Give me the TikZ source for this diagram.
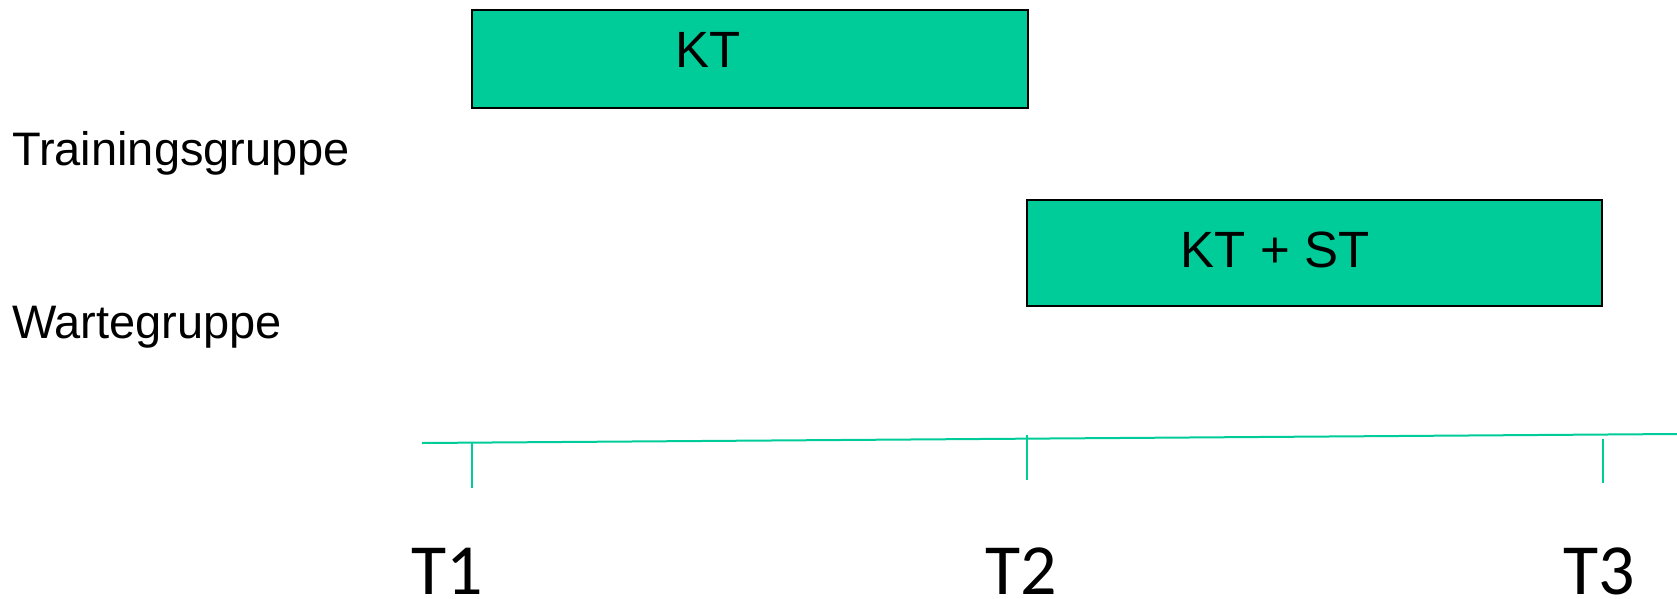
\documentclass[tikz,border=0pt]{standalone}
\usepackage{fontspec}
\setmainfont{Liberation Sans}
\newfontfamily\tfont{Carlito}
\definecolor{phase}{RGB}{0,204,153}
\tikzset{
  phasebox/.style={draw=black, line width=1.6pt, fill=phase, rectangle, inner sep=0pt},
  grouplabel/.style={anchor=base west, inner sep=0pt, font=\fontsize{47}{56}\selectfont},
  boxlabel/.style={anchor=base, inner sep=0pt, font=\fontsize{51}{60}\selectfont},
  timelabel/.style={anchor=base, inner sep=0pt, font=\tfont\fontsize{72}{86}\selectfont},
  axis/.style={draw=phase, line width=2pt},
}
\begin{document}
\begin{tikzpicture}[x=1pt, y=-1pt]
  \useasboundingbox (0,0) rectangle (1677,599);

  % phase boxes
  \path[phasebox] (472,10) rectangle (1028,108);
  \path[phasebox] (1027,200) rectangle (1602,306);
  \node[boxlabel] (kt) at (708,68) {KT};
  \node[boxlabel] (ktst) at (1275,267) {KT + ST};

  % group names
  \node[grouplabel] (tg) at (12,165) {Trainingsgruppe};
  \node[grouplabel] (wg) at (12,338) {Wartegruppe};

  % time axis
  \coordinate (a0) at (422,443);
  \coordinate (a1) at (1677,434);
  \draw[axis] (a0) -- (a1);
  \coordinate (t1top) at (472,443);
  \coordinate (t1bot) at (472,488);
  \coordinate (t2top) at (1027,435);
  \coordinate (t2bot) at (1027,480);
  \coordinate (t3top) at (1603,439);
  \coordinate (t3bot) at (1603,483);
  \draw[axis] (t1top) -- (t1bot);
  \draw[axis] (t2top) -- (t2bot);
  \draw[axis] (t3top) -- (t3bot);

  % time points
  \node[timelabel] (T1) at (447,594) {T1};
  \node[timelabel] (T2) at (1021,594) {T2};
  \node[timelabel] (T3) at (1599,594) {T3};
\end{tikzpicture}
\end{document}
